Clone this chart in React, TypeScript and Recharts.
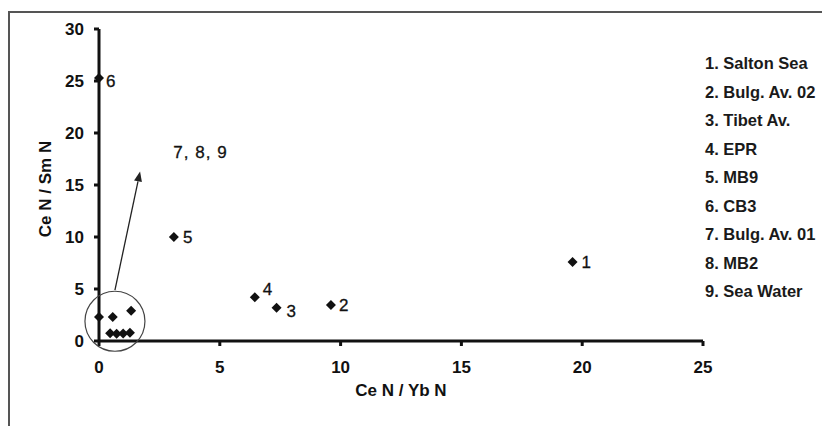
import React from "react";
import {
  ScatterChart,
  Scatter,
  XAxis,
  YAxis,
  ReferenceDot,
  ReferenceLine,
  Label,
} from "recharts";

// sample ratios
const sampleIds = ["1", "2", "3", "4", "5", "6", "", "", "", "", "", "", ""];
const ceYb = [19.6, 9.6, 7.35, 6.45, 3.1, 0, 0, 0.57, 1.33, 0.46, 0.73, 1.0, 1.28];
const ceSm = [7.6, 3.45, 3.2, 4.2, 10.0, 25.3, 2.3, 2.3, 2.9, 0.75, 0.7, 0.72, 0.8];

const xTicks = [0, 5, 10, 15, 20, 25];
const yTicks = [0, 5, 10, 15, 20, 25, 30];

const legendNames = [
  "1. Salton Sea",
  "2. Bulg. Av. 02",
  "3. Tibet Av.",
  "4. EPR",
  "5. MB9",
  "6. CB3",
  "7. Bulg. Av. 01",
  "8. MB2",
  "9. Sea Water",
];

const points = ceYb.map((x, i) => ({ x, y: ceSm[i], id: sampleIds[i] }));

// where each number sits relative to its marker
const labelOffset: Record<string, [number, number]> = {
  "1": [9, 6],
  "2": [8, 6],
  "3": [10, 9],
  "4": [8, -2],
  "5": [9, 6],
  "6": [7, 9],
};

const FONT = "'Liberation Sans', Arial, sans-serif";

const Diamond = (props: any) => {
  const { cx, cy, payload } = props;
  const off = labelOffset[payload.id] || [0, 0];
  return (
    <g>
      <polygon
        points={`${cx},${cy - 5} ${cx + 5},${cy} ${cx},${cy + 5} ${cx - 5},${cy}`}
        fill="#111"
      />
      {payload.id && (
        <text
          x={cx + off[0]}
          y={cy + off[1]}
          fontSize={17}
          fontFamily={FONT}
          fill="#111"
          stroke="#111"
          strokeWidth={0.3}
        >
          {payload.id}
        </text>
      )}
    </g>
  );
};

const Arrow = (props: any) => {
  const { x1, y1, x2, y2 } = props;
  const a = Math.atan2(y2 - y1, x2 - x1);
  const len = 10;
  const w = 4;
  const bx = x2 - len * Math.cos(a);
  const by = y2 - len * Math.sin(a);
  const px = -Math.sin(a) * w;
  const py = Math.cos(a) * w;
  return (
    <g>
      <line x1={x1} y1={y1} x2={bx} y2={by} stroke="#222" strokeWidth={1.3} />
      <polygon
        points={`${x2},${y2} ${bx + px},${by + py} ${bx - px},${by - py}`}
        fill="#222"
      />
    </g>
  );
};

const tickStyle = { fill: "#111", fontSize: 17, fontWeight: 700, fontFamily: FONT };

const XTitle = (props: any) => {
  const { viewBox } = props;
  return (
    <text
      x={viewBox.x + viewBox.width / 2}
      y={396}
      textAnchor="middle"
      fontSize={17}
      fontWeight={700}
      fontFamily={FONT}
      fill="#111"
    >
      Ce N / Yb N
    </text>
  );
};

const YTitle = (props: any) => {
  const { viewBox } = props;
  const cy = viewBox.y + viewBox.height / 2 + 4;
  return (
    <text
      x={51}
      y={cy}
      transform={`rotate(-90, 51, ${cy})`}
      textAnchor="middle"
      fontSize={17}
      fontWeight={700}
      fontFamily={FONT}
      fill="#111"
    >
      Ce N / Sm N
    </text>
  );
};

export default function App() {
  return (
    <div
      style={{
        position: "absolute",
        left: 0,
        top: 0,
        width: 822,
        height: 426,
        background: "#fff",
        overflow: "hidden",
        fontFamily: FONT,
      }}
    >
      <div
        style={{
          position: "absolute",
          left: 8,
          top: 11,
          width: 830,
          height: 430,
          borderLeft: "2px solid #555",
          borderTop: "2px solid #555",
        }}
      />
      <ScatterChart
        width={822}
        height={426}
        margin={{ top: 29, right: 119, bottom: 25, left: 40 }}
        style={{ position: "absolute", left: 0, top: 0 }}
      >
        <XAxis
          type="number"
          dataKey="x"
          domain={[0, 25]}
          ticks={xTicks}
          interval={0}
          stroke="#111"
          strokeWidth={3}
          tickSize={5}
          tick={tickStyle}
          tickMargin={15}
          height={60}
        >
          <Label content={<XTitle />} />
        </XAxis>
        <YAxis
          type="number"
          dataKey="y"
          domain={[0, 30]}
          ticks={yTicks}
          interval={0}
          stroke="#111"
          strokeWidth={3}
          tickSize={5}
          tick={tickStyle}
          tickMargin={10}
          width={59}
        >
          <Label content={<YTitle />} />
        </YAxis>
        <ReferenceDot
          x={0.66}
          y={1.9}
          r={30}
          fill="none"
          stroke="#444"
          strokeWidth={1.2}
          ifOverflow="visible"
        />
        <ReferenceLine
          segment={[
            { x: 0.66, y: 4.9 },
            { x: 1.7, y: 16.3 },
          ]}
          shape={<Arrow />}
          ifOverflow="visible"
        />
        <ReferenceDot x={4.2} y={18.2} r={0} fill="none" stroke="none" ifOverflow="visible">
          <Label
            value="7, 8, 9"
            position="center"
            style={{
              fill: "#111",
              stroke: "#111",
              strokeWidth: 0.3,
              fontSize: 17,
              letterSpacing: 1,
              fontFamily: FONT,
            }}
          />
        </ReferenceDot>
        <Scatter data={points} shape={<Diamond />} isAnimationActive={false} />
      </ScatterChart>
      <div style={{ position: "absolute", left: 705, top: 54 }}>
        {legendNames.map((n) => (
          <div
            key={n}
            style={{
              height: 28.5,
              fontSize: 16.5,
              fontWeight: 700,
              color: "#1a1a1a",
              whiteSpace: "nowrap",
            }}
          >
            {n}
          </div>
        ))}
      </div>
    </div>
  );
}
